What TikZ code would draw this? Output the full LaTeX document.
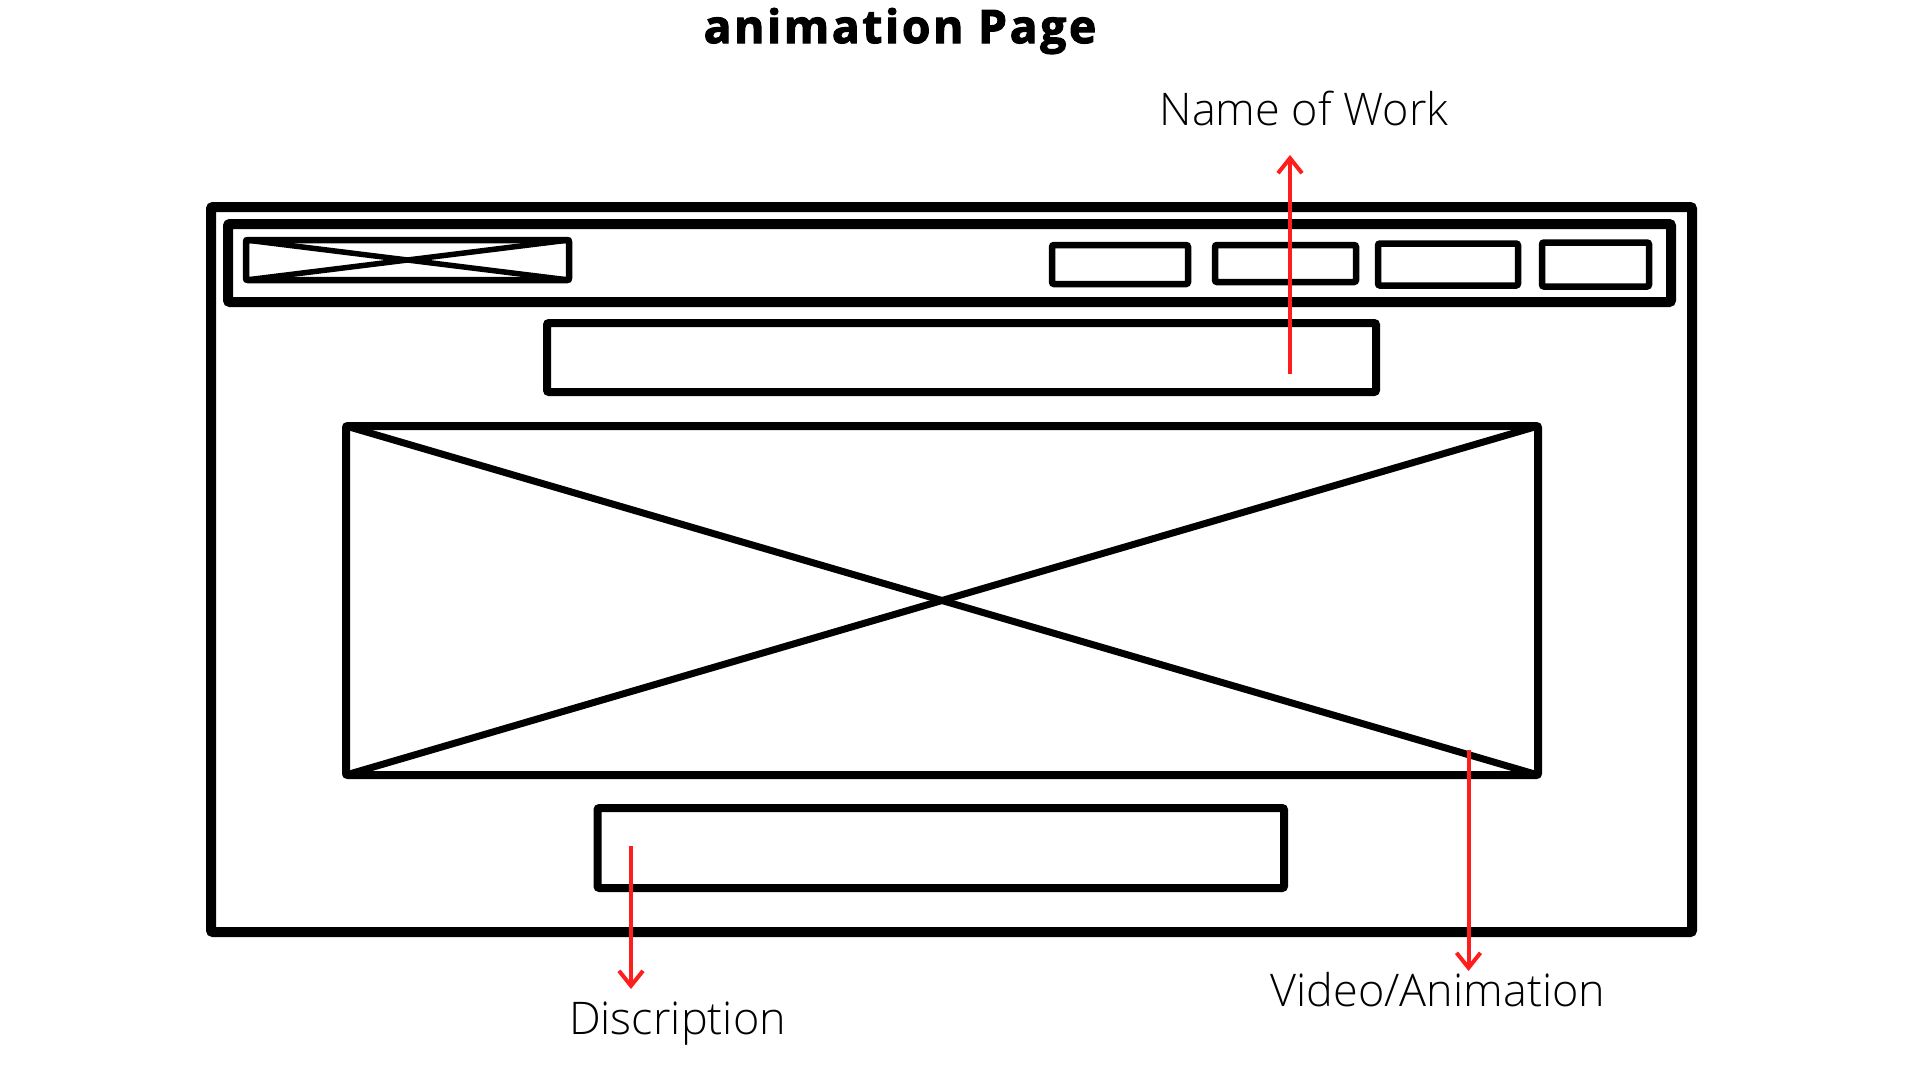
\documentclass[tikz,border=0pt]{standalone}
\usepackage{fontspec}
\setmainfont{Open Sans Light}
\newfontfamily\titlefont{Open Sans}[BoldFeatures={FakeBold=2.5}, LetterSpace=6]
\usetikzlibrary{arrows.meta}
\definecolor{arrowred}{HTML}{FF1E1E}
\tikzset{
  frame/.style={draw, line width=10pt, rounded corners=2pt, inner sep=0pt, outer sep=0pt},
  box/.style={draw, line width=8pt, rounded corners=2pt, inner sep=0pt, outer sep=0pt},
  smallbox/.style={draw, line width=6.5pt, rounded corners=2pt, inner sep=0pt, outer sep=0pt},
  cross/.style={line width=7pt, line cap=round},
  smallcross/.style={line width=5.5pt, line cap=round},
  pointer/.style={draw=arrowred, line width=4pt,
    -{Straight Barb[length=15pt,width=24pt,line width=4pt]}},
  caption/.style={anchor=base, inner sep=0pt, font=\fontsize{45}{54}\selectfont}
}
\begin{document}
\begin{tikzpicture}[x=1pt,y=-1pt]
\useasboundingbox (0,0) rectangle (1920,1080);

% page title
\node[anchor=base, inner sep=0pt] (title) at (900,43)
  {\titlefont\bfseries\fontsize{46}{54}\selectfont animation Page};

% browser window and header bar
\node[frame, minimum width=1481pt, minimum height=725pt] (window) at (951.5,569.5) {};
\node[frame, minimum width=1443pt, minimum height=78pt] (header) at (949.5,263) {};

% logo placeholder
\node[smallbox, minimum width=323pt, minimum height=40pt] (logo) at (407.5,260) {};
\draw[smallcross] (logo.north west) -- (logo.south east);
\draw[smallcross] (logo.south west) -- (logo.north east);

% navigation buttons
\node[smallbox, minimum width=136pt, minimum height=39pt] (nav1) at (1120,264.5) {};
\node[smallbox, minimum width=141pt, minimum height=37pt] (nav2) at (1285.5,263.5) {};
\node[smallbox, minimum width=140pt, minimum height=42pt] (nav3) at (1448,264.5) {};
\node[smallbox, minimum width=107pt, minimum height=44pt] (nav4) at (1595.5,264.5) {};

% title of the work
\node[box, minimum width=829pt, minimum height=69pt] (worktitle) at (961.5,357.5) {};

% video / animation area
\node[box, minimum width=1192pt, minimum height=349pt] (video) at (942,600.5) {};
\draw[cross] (video.north west) -- (video.south east);
\draw[cross] (video.south west) -- (video.north east);

% description area
\node[box, minimum width=686.5pt, minimum height=80pt] (desc) at (940.75,848) {};

% captions
\node[caption] (namelabel) at (1304,125) {Name of Work};
\node[caption] (desclabel) at (677.5,1034) {Discription};
\node[caption] (videolabel) at (1438,1006) {Video/Animation};

% pointers
\coordinate (nameStart) at (1290,374);
\coordinate (nameEnd) at (1290,155);
\coordinate (descStart) at (631,846);
\coordinate (descEnd) at (631,989);
\coordinate (videoStart) at (1468.5,750);
\coordinate (videoEnd) at (1468.5,971);
\draw[pointer] (nameStart) -- (nameEnd);
\draw[pointer] (descStart) -- (descEnd);
\draw[pointer] (videoStart) -- (videoEnd);
\end{tikzpicture}
\end{document}
